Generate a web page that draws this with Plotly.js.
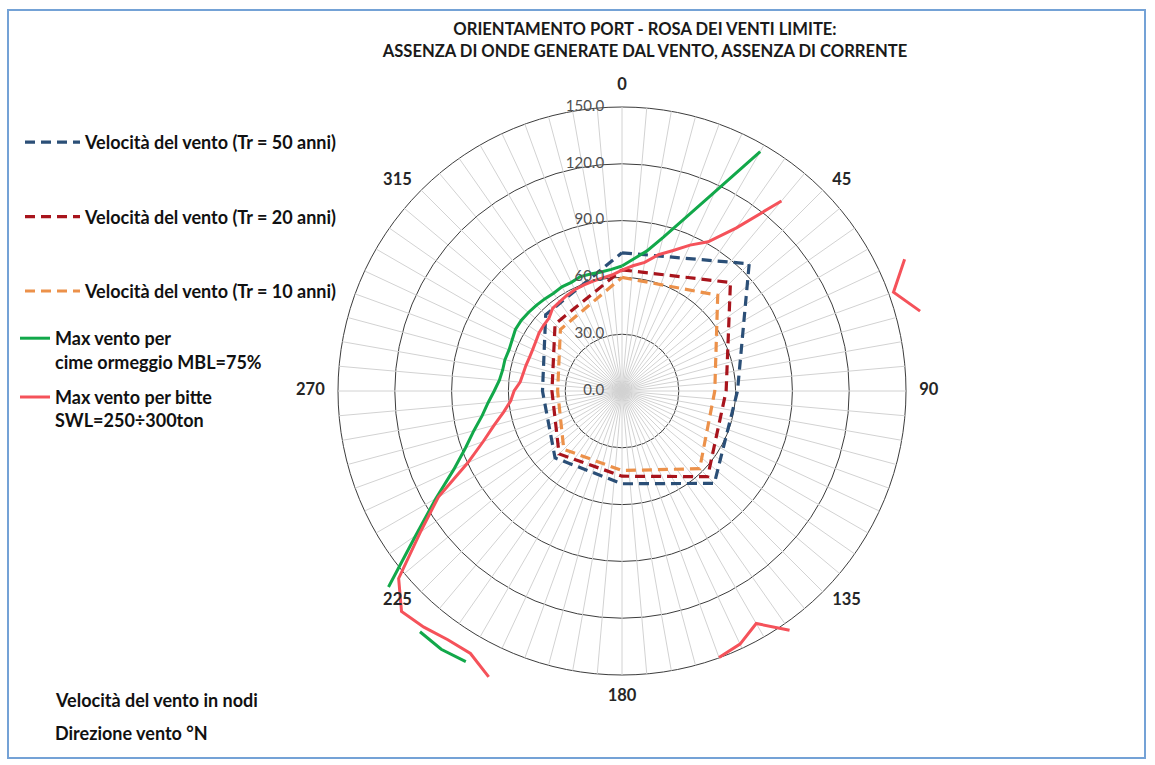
<!DOCTYPE html>
<html>
<head>
<meta charset="utf-8">
<script src="https://cdn.plot.ly/plotly-3.0.1.min.js"></script>
<style>
  html, body { margin: 0; padding: 0; background: #ffffff; }
  #chart { width: 1155px; height: 765px; }
</style>
</head>
<body>
<div id="chart"></div>
<script>
// Wind directions (degrees from north), one category every 5 degrees
const directions = [
  0, 5, 10, 15, 20, 25, 30, 35, 40, 45, 50, 55,
  60, 65, 70, 75, 80, 85, 90, 95, 100, 105, 110, 115,
  120, 125, 130, 135, 140, 145, 150, 155, 160, 165, 170, 175,
  180, 185, 190, 195, 200, 205, 210, 215, 220, 225, 230, 235,
  240, 245, 250, 255, 260, 265, 270, 275, 280, 285, 290, 295,
  300, 305, 310, 315, 320, 325, 330, 335, 340, 345, 350, 355
];

// Max wind for mooring lines, MBL = 75% (knots); null where no value
const maxWindMooring = [
  66, 70, 75, 84, 97, 116, 146, null, null, null, null, null,
  null, null, null, null, null, null, null, null, null, null, null, null,
  null, null, null, null, null, null, null, null, null, null, null, null,
  null, null, null, null, null, null, 165, 166.5, 166, null, 161, 133,
  113.5, 98, 88, 81, 75, 71, 67.5, 65, 64, 64, 63.5, 64,
  65, 65, 64.5, 64, 63.5, 63, 63.5, 63.3, 64.3, 64, 63.8, 64.5
];

// Max wind for bollards, SWL = 250÷300 t (knots); null where no value
const maxWindBollards = [
  63.8, 66.4, 69, 74.5, 79, 85, 91, 105, 131, null, null, null,
  null, 164.7, 152.6, 163, null, null, null, null, null, null, null, null,
  null, null, null, null, null, 154.3, 141.8, 147.5, 149.8, null, null, null,
  null, null, null, null, null, 166.6, 160.1, 160.4, 162.8, 164.7, 154, 130,
  112, 90, 78, 70, 63.4, 59, 57, 54, 53, 52.5, 52, 52,
  52.5, 53.5, 54, 54.5, 57, 57.5, 58.3, 59, 59.5, 60, 60.5, 61.5
];

// Design wind speed by return period (knots), at the eight main directions
const mainDirections = [0, 45, 90, 135, 180, 225, 270, 315];
const windTr50 = [73, 95, 61, 69, 49, 50, 42, 57];
const windTr20 = [64, 81, 55, 64, 45, 47, 37, 50];
const windTr10 = [60, 71.5, 49, 58, 42, 43.5, 34, 46];

// Radial scale and direction labels
const radialTicks = [0, 30, 60, 90, 120, 150];
const radialTickLabels = ['0.0', '30.0', '60.0', '90.0', '120.0', '150.0'];
const directionLabels = ['0', '45', '90', '135', '180', '225', '270', '315'];

// ---- geometry ----
const W = 1155, H = 765;
const CX = 622, CY = 391;          // rose centre (px)
const PX_PER_KNOT = 284 / 150;     // radial scale
const R_MAX = 170;                 // visible radial extent (curves run past the 150 ring)
const GRID_MAX = radialTicks[radialTicks.length - 1];
const LABEL_R = 157;               // radius of the direction labels
const rad = R_MAX * PX_PER_KNOT;

const FONT = 'Lato, "Open Sans", Arial, sans-serif';

const closeLoop = arr => arr.concat([arr[0]]);

// spokes: one line per direction category, from centre to the outer ring
const spokeTheta = [], spokeR = [];
directions.forEach(d => { spokeTheta.push(d, d, d); spokeR.push(0, GRID_MAX, null); });

const traces = [
  {
    type: 'scatterpolar', mode: 'lines', theta: spokeTheta, r: spokeR,
    line: { color: '#d2d2d2', width: 1 }, showlegend: false, hoverinfo: 'skip'
  },
  {
    type: 'scatterpolar', mode: 'lines', name: 'Velocità del vento (Tr = 50 anni)',
    theta: closeLoop(mainDirections), r: closeLoop(windTr50),
    line: { color: '#2b4f77', width: 3.2, dash: '10px,6px' },
    legend: 'legend', legendgroup: 'tr50'
  },
  {
    type: 'scatterpolar', mode: 'lines', name: 'Velocità del vento (Tr = 20 anni)',
    theta: closeLoop(mainDirections), r: closeLoop(windTr20),
    line: { color: '#a8141c', width: 3.2, dash: '10px,6px' },
    legend: 'legend', legendgroup: 'tr20'
  },
  {
    type: 'scatterpolar', mode: 'lines', name: 'Velocità del vento (Tr = 10 anni)',
    theta: closeLoop(mainDirections), r: closeLoop(windTr10),
    line: { color: '#ec914a', width: 3.2, dash: '10px,6px' },
    legend: 'legend', legendgroup: 'tr10'
  },
  {
    type: 'scatterpolar', mode: 'lines', name: 'Max vento per<br>cime ormeggio MBL=75%',
    theta: closeLoop(directions), r: closeLoop(maxWindMooring),
    line: { color: '#12a84a', width: 3 }, connectgaps: false,
    legend: 'legend2', legendgroup: 'mbl'
  },
  {
    type: 'scatterpolar', mode: 'lines', name: 'Max vento per bitte<br>SWL=250÷300ton',
    theta: closeLoop(directions), r: closeLoop(maxWindBollards),
    line: { color: '#f5525a', width: 3 }, connectgaps: false,
    legend: 'legend2', legendgroup: 'swl'
  },
  {
    // radial scale labels along the north spoke
    type: 'scatterpolar', mode: 'markers+text',
    theta: radialTicks.map(() => 0), r: radialTicks, text: radialTickLabels,
    textposition: 'middle left',
    marker: { size: 27, color: 'rgba(0,0,0,0)' },
    textfont: { family: FONT, size: 15, color: '#505050' },
    showlegend: false, hoverinfo: 'skip'
  },
  {
    // direction labels round the rose
    type: 'scatterpolar', mode: 'text',
    theta: mainDirections, r: mainDirections.map(() => LABEL_R), text: directionLabels,
    textposition: ['top center', 'middle right', 'middle right', 'middle right',
                   'bottom center', 'middle left', 'middle left', 'middle left'],
    textfont: { family: FONT, size: 16.5, color: '#262626', weight: 'bold' },
    showlegend: false, hoverinfo: 'skip'
  }
];

const legendFont = { family: FONT, size: 18, color: '#111111', weight: 'bold' };

const layout = {
  width: W, height: H,
  margin: { l: 0, r: 0, t: 0, b: 0 },
  paper_bgcolor: '#ffffff',
  font: { family: FONT },
  title: {
    text: 'ORIENTAMENTO PORT - ROSA DEI VENTI LIMITE:<br>ASSENZA DI ONDE GENERATE DAL VENTO, ASSENZA DI CORRENTE',
    font: { family: FONT, size: 16.6, color: '#1a1a1a', weight: 'bold' },
    x: 645 / W, xanchor: 'center', xref: 'paper',
    y: 1 - 35 / H, yanchor: 'middle', yref: 'container'
  },
  polar: {
    domain: {
      x: [(CX - rad) / W, (CX + rad) / W],
      y: [1 - (CY + rad) / H, 1 - (CY - rad) / H]
    },
    bgcolor: 'rgba(0,0,0,0)',
    angularaxis: {
      type: 'linear', thetaunit: 'degrees', rotation: 90, direction: 'clockwise',
      showgrid: false, showline: false, showticklabels: false, ticks: ''
    },
    radialaxis: {
      range: [0, R_MAX], tickvals: radialTicks.slice(1),
      showgrid: true, gridcolor: '#3c3c3c', gridwidth: 1,
      showline: false, showticklabels: false, ticks: ''
    }
  },
  legend: {
    x: 20 / W, xanchor: 'left', y: 1 - 124 / H, yanchor: 'top',
    bgcolor: 'rgba(0,0,0,0)', font: legendFont,
    itemwidth: 55, tracegroupgap: 48, traceorder: 'grouped'
  },
  legend2: {
    x: 15 / W, xanchor: 'left', y: 1 - 320 / H, yanchor: 'top',
    bgcolor: 'rgba(0,0,0,0)', font: legendFont, valign: 'top',
    itemwidth: 30, tracegroupgap: 9, traceorder: 'grouped'
  },
  annotations: [
    {
      text: 'Velocità del vento in nodi', xref: 'paper', yref: 'paper',
      x: 53 / W, xanchor: 'left', y: 1 - 700 / H, yanchor: 'middle',
      showarrow: false, font: legendFont
    },
    {
      text: 'Direzione vento °N', xref: 'paper', yref: 'paper',
      x: 53 / W, xanchor: 'left', y: 1 - 733 / H, yanchor: 'middle',
      showarrow: false, font: legendFont
    }
  ],
  shapes: [
    {
      // chart frame
      type: 'rect', xref: 'paper', yref: 'paper',
      x0: 8 / W, x1: 1145 / W, y0: 1 - 758 / H, y1: 1 - 10 / H,
      line: { color: '#74a2d6', width: 2 }, fillcolor: 'rgba(0,0,0,0)', layer: 'below'
    }
  ],
  showlegend: true
};

Plotly.newPlot('chart', traces, layout, { displayModeBar: false, staticPlot: true });
</script>
</body>
</html>
